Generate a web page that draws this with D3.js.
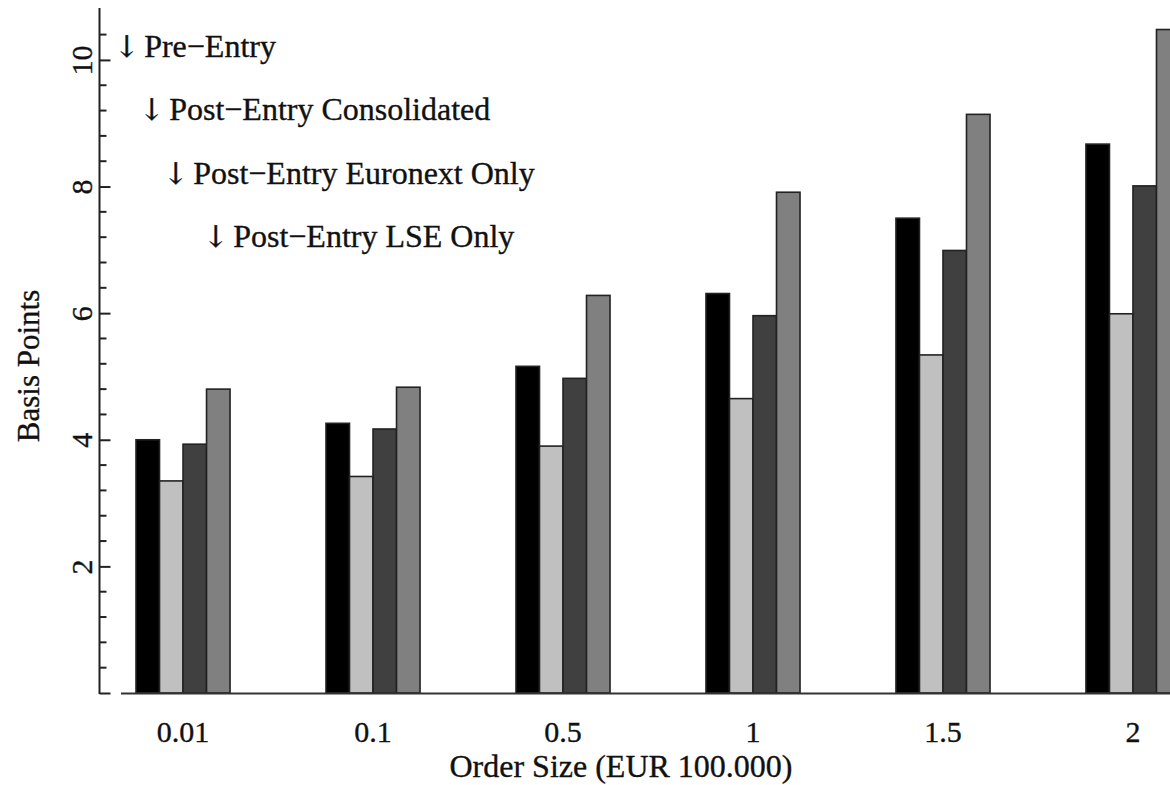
<!DOCTYPE html>
<html>
<head>
<meta charset="utf-8">
<script src="https://cdn.jsdelivr.net/npm/d3@7"></script>
<style>
  html, body { margin: 0; padding: 0; background: #fff; }
  svg { display: block; }
  text { font-family: "Liberation Serif", "Times New Roman", serif; fill: #111; stroke: #111; stroke-width: 0.35px; }
</style>
</head>
<body>
<svg id="chart" width="1170" height="785"></svg>
<script>
// Order sizes (EUR 100.000) along the x axis
const categories = ["0.01", "0.1", "0.5", "1", "1.5", "2"];

// Series names, in bar order within each group
const seriesNames = [
  "Pre\u2212Entry",
  "Post\u2212Entry Consolidated",
  "Post\u2212Entry Euronext Only",
  "Post\u2212Entry LSE Only"
];

// Cost in basis points per order size
const preEntry         = [4.00, 4.26, 5.16, 6.31, 7.50, 8.67];
const postConsolidated = [3.35, 3.42, 3.90, 4.65, 5.34, 5.99];
const postEuronext     = [3.93, 4.17, 4.97, 5.96, 6.99, 8.01];
const postLSE          = [4.80, 4.83, 6.28, 7.91, 9.14, 10.48];

// Y axis ticks
const yMajorTicks = [0, 2, 4, 6, 8, 10];
const yMinorTicks = d3.range(1, 27).filter(i => i % 5 !== 0).map(i => i * 0.4);

// Legend rows sit at these heights (in basis points)
const legendLevels = [10, 9, 8, 7];

const seriesValues = [preEntry, postConsolidated, postEuronext, postLSE];
const seriesFill = ["#000000", "#c0c0c0", "#404040", "#808080"];

const width = 1170, height = 785;
const svg = d3.select("#chart");

svg.append("rect").attr("width", width).attr("height", height).attr("fill", "#fff");

const axisX = 99.5;
const baseY = 693;

const y = d3.scaleLinear().domain([0, 10.82]).range([baseY, 8]);

const x0 = d3.scaleBand()
  .domain(categories)
  .range([136, 1180])
  .paddingInner(0.505)
  .paddingOuter(0);

const x1 = d3.scaleBand()
  .domain(d3.range(seriesNames.length))
  .range([0, x0.bandwidth()])
  .padding(0);

// Bars
const groups = svg.append("g").attr("class", "bars")
  .selectAll("g")
  .data(categories)
  .join("g")
  .attr("transform", d => `translate(${x0(d)},0)`);

groups.selectAll("rect")
  .data((d, i) => seriesValues.map((vals, s) => ({ s, v: vals[i] })))
  .join("rect")
  .attr("x", d => x1(d.s))
  .attr("width", x1.bandwidth())
  .attr("y", d => y(d.v))
  .attr("height", d => y(0) - y(d.v))
  .attr("fill", d => seriesFill[d.s])
  .attr("stroke", "#222")
  .attr("stroke-width", 1.6);

// X axis line (no ticks), starting a little left of the first group
svg.append("line")
  .attr("x1", x0.range()[0] - 15).attr("x2", width)
  .attr("y1", baseY + 0.5).attr("y2", baseY + 0.5)
  .attr("stroke", "#333").attr("stroke-width", 2);

// X tick labels centred under each group
svg.append("g").selectAll("text")
  .data(categories)
  .join("text")
  .attr("x", d => x0(d) + x0.bandwidth() / 2)
  .attr("y", 742)
  .attr("text-anchor", "middle")
  .attr("font-size", 30)
  .text(d => d);

// Y axis: ticks point into the plot, labels rotated
const yAxis = d3.axisLeft(y)
  .tickValues(yMajorTicks)
  .tickSizeInner(-11)
  .tickSizeOuter(0)
  .tickFormat(d => d === 0 ? "" : d3.format("d")(d));

const gy = svg.append("g")
  .attr("transform", `translate(${axisX},0)`)
  .call(yAxis);

gy.select(".domain").attr("stroke", "#222").attr("stroke-width", 2)
  .attr("d", `M0,${y.range()[1]}V${baseY + 1}`);
gy.selectAll(".tick line").attr("stroke", "#222").attr("stroke-width", 2);
gy.selectAll(".tick text")
  .attr("font-family", "Liberation Serif, Times New Roman, serif")
  .attr("font-size", 30)
  .attr("fill", "#111")
  .attr("text-anchor", "middle")
  .attr("transform", "rotate(-90)")
  .attr("x", 0)
  .attr("y", -8)
  .attr("dy", 0);

gy.append("g").selectAll("line")
  .data(yMinorTicks)
  .join("line")
  .attr("x1", 0).attr("x2", 7)
  .attr("y1", d => y(d)).attr("y2", d => y(d))
  .attr("stroke", "#222").attr("stroke-width", 2);

// Axis titles
svg.append("text")
  .attr("transform", `translate(39,${366}) rotate(-90)`)
  .attr("text-anchor", "middle")
  .attr("font-size", 31)
  .text("Basis Points");

svg.append("text")
  .attr("x", 621)
  .attr("y", 777)
  .attr("text-anchor", "middle")
  .attr("font-size", 32)
  .text("Order Size (EUR 100.000)");

// Legend: staggered labels with a down arrow
const legendX = [114, 139, 163, 203];
const legend = svg.append("g").selectAll("text")
  .data(seriesNames)
  .join("text")
  .attr("x", (d, i) => legendX[i])
  .attr("y", (d, i) => y(legendLevels[i]) - 3)
  .attr("font-size", 32);

legend.append("tspan")
  .style("font-family", "'DejaVu Serif', 'DejaVu Sans', serif")
  .style("fill", "#111")
  .attr("font-size", 30)
  .text("\u2193");
legend.append("tspan").attr("dx", 5).text(d => d);
</script>
</body>
</html>
